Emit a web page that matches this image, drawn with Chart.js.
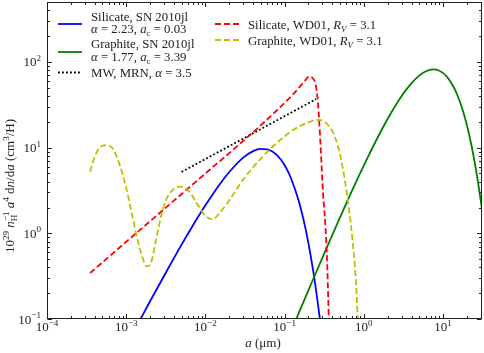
<!DOCTYPE html>
<html>
<head>
<meta charset="utf-8">
<script src="https://cdn.jsdelivr.net/npm/chart.js@4"></script>
<style>
  html, body { margin: 0; padding: 0; background: #fff; }
  canvas { display: block; }
</style>
</head>
<body>
<canvas id="chart" width="484" height="353"></canvas>
<script>
// ===== Data =====
const xTickExps = [-4, -3, -2, -1, 0, 1];
const yTickExps = [-1, 0, 1, 2];

// Silicate, SN 2010jl
const blueA = [0.0015, 0.002, 0.003, 0.005, 0.007, 0.01, 0.015, 0.02, 0.03, 0.04, 0.05, 0.06, 0.08, 0.1, 0.12, 0.15, 0.18, 0.2, 0.23, 0.26, 0.28];
const blueV = [0.098, 0.161, 0.318, 0.737, 1.25, 2.12, 3.69, 5.19, 7.63, 9.10, 9.67, 9.56, 8.17, 6.23, 4.42, 2.41, 1.23, 0.759, 0.357, 0.163, 0.096];

// Graphite, SN 2010jl
const greenA = [0.13, 0.2, 0.3, 0.5, 0.7, 1, 1.5, 2, 3, 4, 5, 6, 7.5, 9, 11, 13, 15, 18, 21, 25, 30, 32];
const greenV = [0.085, 0.217, 0.521, 1.53, 3.06, 6.21, 13.2, 21.7, 39.9, 56.4, 69.1, 77.2, 81.6, 78.7, 68.3, 54.9, 41.9, 26.0, 15.1, 6.85, 2.36, 1.51];

// MW, MRN
const mrnA = [0.005, 0.25];
const mrnV = [5.2, 36.8];

// Silicate, WD01
const redA = [3.5e-4, 1e-3, 3e-3, 0.01124, 0.01828, 0.0297, 0.0483, 0.0785, 0.1274, 0.1791, 0.2031, 0.2282, 0.2469, 0.2639, 0.2831, 0.3053, 0.3275, 0.343, 0.3533, 0.3606, 0.368];
const redV = [0.344, 0.796, 1.91, 5.48, 8.04, 11.9, 17.7, 26.9, 41.7, 59.6, 67.5, 64.1, 53.6, 32.8, 11.2, 2.94, 1.20, 0.491, 0.201, 0.103, 0.05];

// Graphite, WD01
const yellowA = [3.5e-4, 3.94e-4, 4.55e-4, 5.53e-4, 6.71e-4, 8.15e-4, 9.91e-4, 1.2e-3, 1.39e-3, 1.61e-3, 1.83e-3, 2.05e-3, 2.38e-3, 2.75e-3, 3.18e-3, 3.86e-3, 4.92e-3, 6.27e-3, 7.99e-3, 0.0102, 0.01238, 0.01503, 0.0201, 0.0297, 0.0483, 0.0785, 0.1274, 0.2073, 0.2773, 0.3533, 0.4295, 0.4968, 0.5746, 0.6515, 0.7194, 0.7694, 0.8085, 0.8324, 0.845];
const yellowV = [5.24, 7.51, 9.81, 10.7, 9.81, 6.56, 3.51, 1.57, 0.84, 0.514, 0.411, 0.45, 0.84, 1.57, 2.45, 3.21, 3.51, 3.07, 2.15, 1.57, 1.46, 1.72, 2.45, 4.20, 7.17, 11.2, 16.0, 20.0, 21.0, 18.3, 13.4, 8.58, 4.20, 1.88, 0.84, 0.411, 0.201, 0.103, 0.07];

const pts = (xs, ys) => xs.map((x, i) => ({ x: x, y: ys[i] }));

// ===== Text helpers (mathtext-ish runs) =====
const FONT = '"Liberation Serif", "DejaVu Serif", serif';
const R = t => ({ t: t });
const I = t => ({ t: t, i: true });
const SUP = (t, back) => ({ t: t, k: "sup", back: back });
const SUB = (t, it) => ({ t: t, k: "sub", i: it });

function drawRuns(ctx, items, x0, y0, size, draw) {
  let x = x0, prevStart = x0;
  for (const it of items) {
    const small = it.k === "sup" || it.k === "sub";
    const fs = small ? size * 0.7 : size;
    ctx.font = (it.i ? "italic " : "") + fs + "px " + FONT;
    const start = it.back ? prevStart : x;
    const dy = it.k === "sup" ? -size * 0.42 : it.k === "sub" ? size * 0.24 : 0;
    if (draw) ctx.fillText(it.t, start, y0 + dy);
    const end = start + ctx.measureText(it.t).width;
    x = it.back ? Math.max(x, end) : end;
    prevStart = start;
  }
  return x - x0;
}

function sciLabel(e) {
  return [R("10"), SUP(e < 0 ? "\u2212" + (-e) : String(e))];
}

// ===== Legend entries =====
const legendCol1 = [
  { color: "#0000ff", dash: [], y: 24, lines: [
    { y: 21, runs: [R("Silicate, SN 2010jl")] },
    { y: 33, runs: [I("\u03b1"), R(" = 2.23, "), I("a"), SUB("c"), R(" = 0.03")] } ] },
  { color: "#008000", dash: [], y: 52, lines: [
    { y: 48, runs: [R("Graphite, SN 2010jl")] },
    { y: 61, runs: [I("\u03b1"), R(" = 1.77, "), I("a"), SUB("c"), R(" = 3.39")] } ] },
  { color: "#000000", dash: [1.8, 2.2], y: 72.5, lines: [
    { y: 77, runs: [R("MW, MRN, "), I("\u03b1"), R(" = 3.5")] } ] }
];
const legendCol2 = [
  { color: "#ff0000", dash: [6, 3], y: 24, lines: [
    { y: 28.5, runs: [R("Silicate, WD01, "), I("R"), SUB("V", true), R(" = 3.1")] } ] },
  { color: "#bfbf00", dash: [6, 3], y: 40, lines: [
    { y: 44.5, runs: [R("Graphite, WD01, "), I("R"), SUB("V", true), R(" = 3.1")] } ] }
];

// ===== Plugin: frame, inward ticks, labels, titles, legend =====
const decor = {
  id: "decor",
  afterDraw(chart) {
    const { ctx, chartArea: ca, scales } = chart;
    const xs = scales.x, ys = scales.y;
    const L = Math.round(ca.left) + 0.5, Rt = Math.round(ca.right) - 0.5;
    const T = Math.round(ca.top) + 0.5, B = Math.round(ca.bottom) - 0.5;
    ctx.save();
    ctx.strokeStyle = "#222";
    ctx.lineWidth = 1;
    ctx.beginPath();
    // x ticks
    for (let e = -4; e <= 1; e++) {
      for (let m = 1; m <= 9; m++) {
        const v = m * Math.pow(10, e);
        if (v < xs.min * 0.999 || v > xs.max * 1.001) continue;
        const px = Math.round(xs.getPixelForValue(v)) + 0.5;
        const len = m === 1 ? 4.5 : 2.5;
        ctx.moveTo(px, B); ctx.lineTo(px, B - len);
        ctx.moveTo(px, T); ctx.lineTo(px, T + len);
      }
    }
    // y ticks
    for (let e = -1; e <= 2; e++) {
      for (let m = 1; m <= 9; m++) {
        const v = m * Math.pow(10, e);
        if (v < ys.min * 0.999 || v > ys.max * 1.001) continue;
        const py = Math.round(ys.getPixelForValue(v)) + 0.5;
        const len = m === 1 ? 4.5 : 2.5;
        ctx.moveTo(L, py); ctx.lineTo(L + len, py);
        ctx.moveTo(Rt, py); ctx.lineTo(Rt - len, py);
      }
    }
    ctx.stroke();
    ctx.strokeRect(L, T, Rt - L, B - T);

    // tick labels
    ctx.fillStyle = "#222";
    ctx.textBaseline = "alphabetic";
    ctx.textAlign = "left";
    for (const e of xTickExps) {
      const px = xs.getPixelForValue(Math.pow(10, e));
      const runs = sciLabel(e);
      const w = drawRuns(ctx, runs, 0, 0, 13, false);
      drawRuns(ctx, runs, px - w / 2, 331, 13, true);
    }
    for (const e of yTickExps) {
      const py = ys.getPixelForValue(Math.pow(10, e));
      const runs = sciLabel(e);
      const w = drawRuns(ctx, runs, 0, 0, 13, false);
      drawRuns(ctx, runs, 41 - w, py + 4.5, 13, true);
    }

    // axis titles
    const xt = [I("a"), R(" (\u03bcm)")];
    const xw = drawRuns(ctx, xt, 0, 0, 13, false);
    drawRuns(ctx, xt, 263 - xw / 2, 347, 13, true);

    const yt = [R("10"), SUP("29"), R(" "), I("n"), SUB("H"), SUP("\u22121", true), R(" "),
      I("a"), SUP("4"), R(" d"), I("n"), R("/d"), I("a"), R(" (cm"), SUP("3"), R("/H)")];
    const yw = drawRuns(ctx, yt, 0, 0, 13, false);
    ctx.save();
    ctx.translate(14, 186);
    ctx.rotate(-Math.PI / 2);
    drawRuns(ctx, yt, -yw / 2, 0, 13, true);
    ctx.restore();

    // legend
    const drawCol = (items, x1, x2, tx) => {
      for (const it of items) {
        ctx.strokeStyle = it.color;
        ctx.lineWidth = 1.8;
        ctx.setLineDash(it.dash);
        ctx.beginPath();
        ctx.moveTo(x1, it.y); ctx.lineTo(x2, it.y);
        ctx.stroke();
        ctx.setLineDash([]);
        ctx.fillStyle = "#222";
        for (const ln of it.lines) drawRuns(ctx, ln.runs, tx, ln.y, 12.8, true);
      }
    };
    drawCol(legendCol1, 58, 82, 91);
    drawCol(legendCol2, 215, 239, 248);
    ctx.restore();
  }
};

// ===== Chart =====
const line = (label, xs, ys, color, dash, order, mono) => ({
  label: label,
  data: pts(xs, ys),
  borderColor: color,
  borderWidth: 1.8,
  borderDash: dash,
  pointRadius: 0,
  fill: false,
  cubicInterpolationMode: mono ? "monotone" : "default",
  tension: 0,
  order: order
});

new Chart(document.getElementById("chart"), {
  type: "line",
  data: {
    datasets: [
      line("Silicate, SN 2010jl", blueA, blueV, "#0000ff", [], 5, true),
      line("Graphite, SN 2010jl", greenA, greenV, "#008000", [], 4, true),
      line("MW, MRN", mrnA, mrnV, "#000000", [1.8, 2.2], 3, false),
      line("Silicate, WD01", redA, redV, "#ff0000", [6, 3], 2, true),
      line("Graphite, WD01", yellowA, yellowV, "#bfbf00", [6, 3], 1, true)
    ]
  },
  options: {
    responsive: false,
    animation: false,
    devicePixelRatio: 1,
    layout: { padding: { left: 0, top: 2, right: 2, bottom: 0 } },
    plugins: { legend: { display: false }, tooltip: { enabled: false } },
    scales: {
      x: {
        type: "logarithmic",
        min: 1e-4,
        max: 31,
        grid: { display: false },
        border: { display: false },
        ticks: { display: false },
        afterFit: s => { s.height = 34; }
      },
      y: {
        type: "logarithmic",
        min: 0.1,
        max: 500,
        grid: { display: false },
        border: { display: false },
        ticks: { display: false },
        afterFit: s => { s.width = 47; }
      }
    }
  },
  plugins: [decor]
});
</script>
</body>
</html>
